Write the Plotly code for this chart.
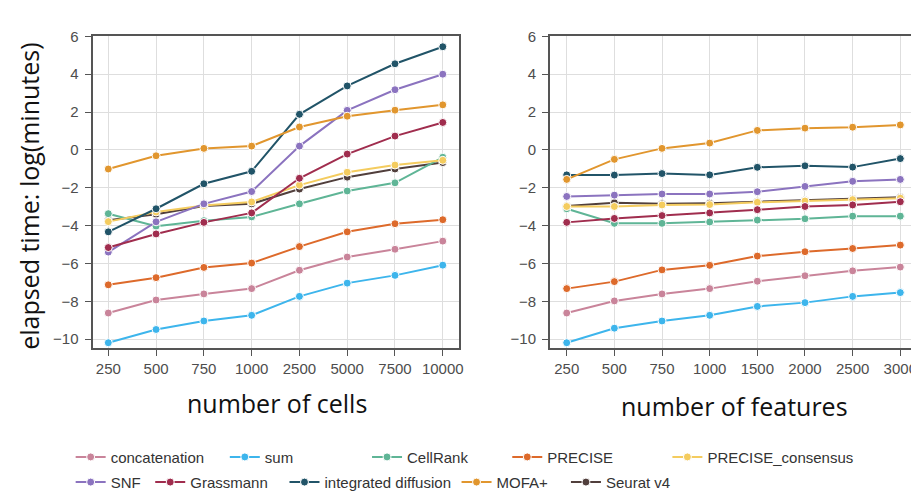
import plotly.graph_objects as go

W, H = 919, 491

cells = ["250", "500", "750", "1000", "2500", "5000", "7500", "10000"]
features = ["250", "500", "750", "1000", "1500", "2000", "2500", "3000"]
y_ticks = [6, 4, 2, 0, -2, -4, -6, -8, -10]

methods = ["concatenation", "sum", "CellRank", "PRECISE", "PRECISE_consensus",
           "SNF", "Grassmann", "integrated diffusion", "MOFA+", "Seurat v4"]
colors = ["#c9849a", "#3db5ec", "#5fb596", "#dd6a2b", "#f4cc5f",
          "#8b73bf", "#a02d4e", "#215468", "#e1962e", "#513f3c"]

# elapsed time, log(minutes), versus number of cells
concatenation_cells = [-8.62, -7.93, -7.61, -7.33, -6.36, -5.66, -5.25, -4.82]
sum_cells = [-10.19, -9.49, -9.04, -8.74, -7.74, -7.04, -6.63, -6.09]
cellrank_cells = [-3.37, -4.03, -3.74, -3.54, -2.85, -2.17, -1.74, -0.39]
precise_cells = [-7.13, -6.75, -6.21, -5.98, -5.11, -4.33, -3.90, -3.69]
precise_consensus_cells = [-3.79, -3.28, -2.94, -2.75, -1.86, -1.18, -0.80, -0.55]
snf_cells = [-5.40, -3.80, -2.85, -2.20, 0.20, 2.09, 3.18, 4.00]
grassmann_cells = [-5.16, -4.44, -3.83, -3.33, -1.50, -0.22, 0.73, 1.45]
integrated_diffusion_cells = [-4.33, -3.11, -1.79, -1.13, 1.88, 3.38, 4.55, 5.45]
mofa_cells = [-1.01, -0.31, 0.08, 0.20, 1.21, 1.78, 2.10, 2.38]
seurat_cells = [-3.72, -3.40, -2.97, -2.85, -2.07, -1.44, -1.01, -0.67]

# elapsed time, log(minutes), versus number of features
concatenation_features = [-8.62, -7.98, -7.61, -7.33, -6.94, -6.65, -6.39, -6.19]
sum_features = [-10.19, -9.42, -9.04, -8.74, -8.27, -8.07, -7.74, -7.54]
cellrank_features = [-3.11, -3.88, -3.88, -3.81, -3.71, -3.64, -3.50, -3.50]
precise_features = [-7.33, -6.96, -6.34, -6.10, -5.61, -5.38, -5.21, -5.03]
precise_consensus_features = [-2.99, -2.99, -2.91, -2.89, -2.77, -2.70, -2.63, -2.55]
snf_features = [-2.46, -2.39, -2.33, -2.33, -2.21, -1.93, -1.66, -1.56]
grassmann_features = [-3.83, -3.62, -3.47, -3.33, -3.16, -2.99, -2.91, -2.74]
integrated_diffusion_features = [-1.32, -1.33, -1.25, -1.32, -0.92, -0.84, -0.91, -0.46]
mofa_features = [-1.56, -0.50, 0.08, 0.36, 1.03, 1.15, 1.20, 1.32]
seurat_features = [-2.96, -2.79, -2.85, -2.82, -2.74, -2.67, -2.60, -2.50]

cells_series = [concatenation_cells, sum_cells, cellrank_cells, precise_cells,
                precise_consensus_cells, snf_cells, grassmann_cells,
                integrated_diffusion_cells, mofa_cells, seurat_cells]
features_series = [concatenation_features, sum_features, cellrank_features,
                   precise_features, precise_consensus_features, snf_features,
                   grassmann_features, integrated_diffusion_features,
                   mofa_features, seurat_features]

# legend placement: (left px of symbol line, row centre px)
legend_pos = [(75, 455), (230, 455), (373, 455), (514, 455), (675, 455),
              (75, 481), (155, 481), (290, 481), (463, 481), (573, 481)]

draw_order = [0, 1, 9, 2, 3, 4, 5, 6, 7, 8]

TICKF = "Liberation Sans, Arial, sans-serif"
TITLE = "Open Sans, Lato, sans-serif"

fig = go.Figure()
for i in draw_order:
    lg = "legend" if i == 0 else f"legend{i + 1}"
    for xs, ys, xa, ya, show in [(cells, cells_series[i], "x", "y", True),
                                 (features, features_series[i], "x2", "y2", False)]:
        fig.add_trace(go.Scatter(
            x=xs, y=ys, xaxis=xa, yaxis=ya, name=methods[i],
            mode="lines+markers",
            line=dict(color=colors[i], width=2),
            marker=dict(color=colors[i], size=8, line=dict(color="white", width=1)),
            legend=lg, showlegend=show,
        ))

axis_common = dict(
    showgrid=True, gridcolor="#dedede", gridwidth=1,
    showline=True, mirror=True, linecolor="#555555", linewidth=2,
    ticks="outside", ticklen=6, tickcolor="#555555", tickwidth=1,
    tickfont=dict(family=TICKF, size=15, color="#4d4d4d"),
    zeroline=False,
)

x_left = (85 / W, 453 / W)
x_right = (545 / W, 913 / W)
y_dom = (1 - 342 / H, 1 - 20 / H)

layout = dict(
    width=W, height=H,
    margin=dict(l=0, r=0, t=0, b=0),
    paper_bgcolor="white", plot_bgcolor="white",
    showlegend=True,
    xaxis=dict(domain=x_left, type="category", categoryorder="array",
               categoryarray=cells, range=[-0.33, 7.33], anchor="y", **axis_common),
    yaxis=dict(domain=y_dom, range=[-10.46, 6], tickvals=y_ticks, anchor="x",
               ticklabelstandoff=3, **axis_common),
    xaxis2=dict(domain=x_right, type="category", categoryorder="array",
                categoryarray=features, range=[-0.35, 7.33], anchor="y2", **axis_common),
    yaxis2=dict(domain=y_dom, range=[-10.46, 6], tickvals=y_ticks, anchor="x2",
                ticklabelstandoff=3, **axis_common),
)

for i in range(10):
    key = "legend" if i == 0 else f"legend{i + 1}"
    px, py = legend_pos[i]
    layout[key] = dict(
        x=(px - 12) / W, y=1 - py / H, xanchor="left", yanchor="middle",
        xref="paper", yref="paper", orientation="h",
        bgcolor="rgba(0,0,0,0)", borderwidth=0,
        font=dict(family=TICKF, size=15, color="#333333"),
    )

fig.update_layout(**layout)

fig.add_annotation(text="elapsed time: log(minutes)", x=21 / W, y=1 - 185 / H,
                   xref="paper", yref="paper", textangle=-90, showarrow=False,
                   xanchor="center", yanchor="middle",
                   font=dict(family=TITLE, size=25, color="#111111"))
fig.add_annotation(text="number of cells", x=270 / W, y=1 - 399 / H,
                   xref="paper", yref="paper", showarrow=False,
                   xanchor="center", yanchor="middle",
                   font=dict(family=TITLE, size=25, color="#111111"))
fig.add_annotation(text="number of features", x=730 / W, y=1 - 402 / H,
                   xref="paper", yref="paper", showarrow=False,
                   xanchor="center", yanchor="middle",
                   font=dict(family=TITLE, size=25, color="#111111"))

fig.write_html("out.html")
